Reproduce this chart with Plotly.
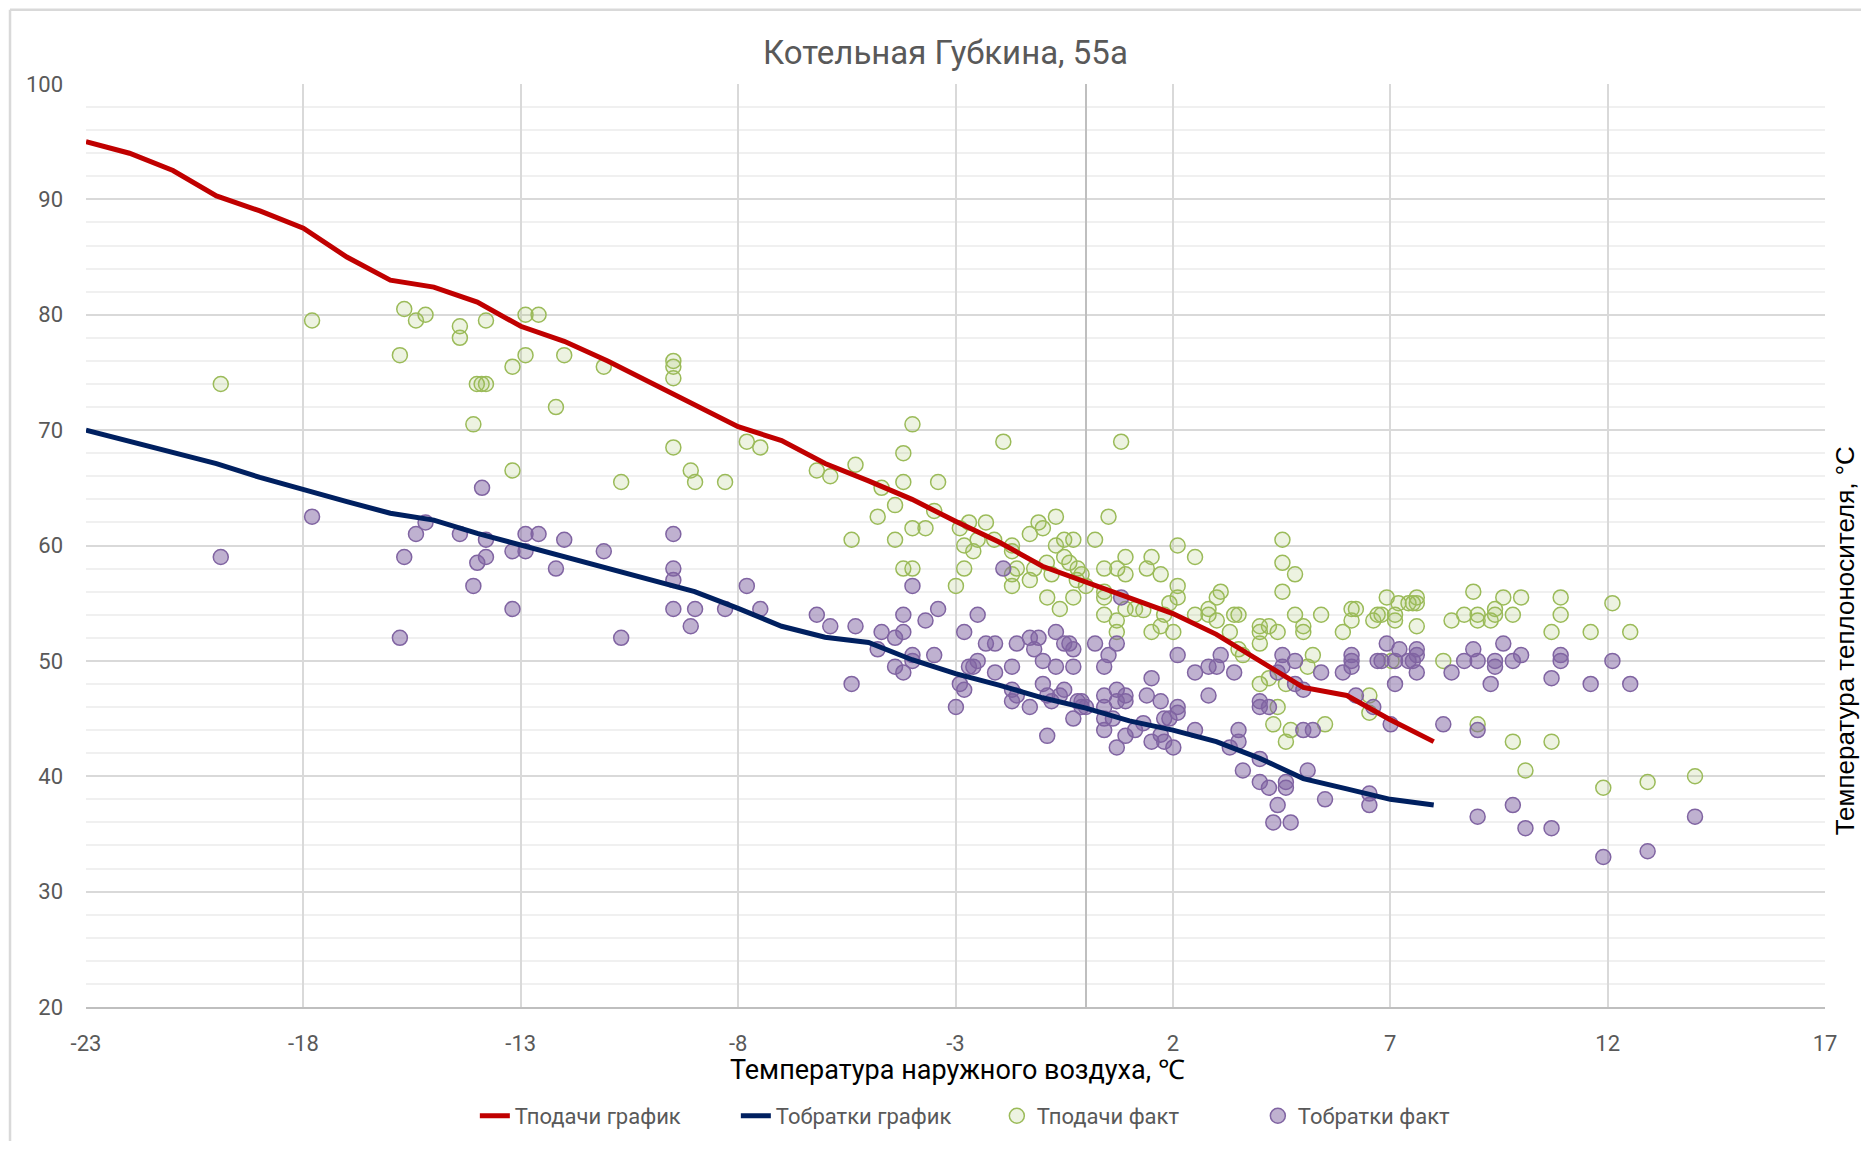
import plotly.graph_objects as go

# ---------------- data ----------------
t_graph = list(range(-23, 9))
t_supply_graph = [95, 94, 92.5, 90.3, 89, 87.5, 85, 83, 82.4, 81.1, 79, 77.7, 76, 74.1, 72.2, 70.3,
                  69.1, 67.1, 65.6, 64.0, 62.1, 60.3, 58.2, 56.8, 55.4, 54.1, 52.3, 50.0, 47.7, 47.0, 44.9, 43.0]
t_return_graph = [70, 69.05, 68.1, 67.1, 65.9, 64.8, 63.8, 62.8, 62.2, 61.05, 60.05, 59.0, 58.0, 57.0, 56.0, 54.55,
                  53.0, 52.05, 51.6, 50.1, 48.9, 47.9, 46.8, 45.9, 44.8, 44.0, 43.0, 41.55, 39.8, 38.9, 38.0, 37.5]

supply_fact_x = [-19.9, -17.8, -15.78, -15.68, -15.41, -15.19, -14.4, -14.4, -14.09, -14.01, -13.9, -13.8, -13.8,
                 -13.19, -13.19, -12.89, -12.89, -12.59, -12.19, -12.0, -11.09, -10.69, -9.49, -9.49, -9.49, -9.49,
                 -9.09, -8.99, -8.3, -7.8, -7.49, -6.19, -5.88,
                 -5.39, -5.3, -4.79, -4.7, -4.39, -4.39, -4.2, -4.2, -4.2, -3.99, -3.99, -3.99, -3.69, -3.49, -3.4,
                 -2.99, -2.9, -2.8, -2.8, -2.69, -2.59, -2.49, -2.3, -2.11, -1.9, -1.7, -1.7, -1.59, -1.7, -1.7,
                 -1.29, -1.29, -1.19, -1.09, -0.99, -0.9, -0.89, -0.79, -0.69, -0.69, -0.6, -0.5, -0.5, -0.38,
                 -0.29, -0.29, -0.21, -0.19, -0.1, 0.0, 0.21, 0.42, 0.42, 0.42, 0.42, 0.52, 0.71, 0.71, 0.72, 0.81,
                 0.91, 0.91, 0.91, 1.13,
                 1.32, 1.4, 1.51, 1.51, 1.72, 1.72, 1.8, 1.92, 2.01, 2.11, 2.11, 2.11, 2.51, 2.51, 2.82, 2.82,
                 3.01, 3.01, 3.1, 3.31, 3.41, 3.51, 3.51, 3.61, 4.0, 4.0, 4.0, 4.0, 4.21, 4.21, 4.31, 4.41, 4.41,
                 4.52, 4.52, 4.52, 4.6, 4.6, 4.71, 4.81, 4.81, 5.0, 5.0, 5.1, 5.22, 5.41, 5.5, 5.91, 6.11, 6.11,
                 6.21, 6.52, 6.52, 6.61, 6.71, 6.8, 6.92, 7.03, 7.11, 7.11, 7.19, 7.42, 7.52, 7.61, 7.61, 7.61,
                 8.22, 8.41, 8.7, 8.91, 9.01, 9.01, 9.01, 9.31, 9.41, 9.41, 9.6, 9.82, 9.82, 10.01, 10.11, 10.71,
                 10.71, 10.92, 10.92, 11.61, 11.9, 12.11, 12.52, 12.92, 14.01]
supply_fact_y = [74.0, 79.5, 76.5, 80.5, 79.5, 80.0, 79.0, 78.0, 70.5, 74.0, 74.0, 74.0, 79.5,
                 75.5, 66.5, 76.5, 80.0, 80.0, 72.0, 76.5, 75.5, 65.5, 76.0, 75.5, 74.5, 68.5,
                 66.5, 65.5, 65.5, 69.0, 68.5, 66.5, 66.0,
                 60.5, 67.0, 62.5, 65.0, 63.5, 60.5, 68.0, 65.5, 58.0, 70.5, 61.5, 58.0, 61.5, 63.0, 65.5,
                 56.5, 61.5, 60.0, 58.0, 62.0, 59.5, 60.5, 62.0, 60.5, 69.0, 60.0, 59.5, 58.0, 57.5, 56.5,
                 61.0, 57.0, 58.0, 62.0, 61.5, 58.5, 55.5, 57.5, 62.5, 60.0, 54.5, 60.5, 59.0, 58.5,
                 60.5, 55.5, 57.0, 58.0, 57.5, 56.5, 60.5, 58.0, 56.0, 55.5, 54.0, 62.5, 53.5, 52.5, 58.0, 69.0,
                 59.0, 57.5, 54.5, 54.5,
                 54.4, 58.0, 59.0, 52.5, 57.5, 53.0, 54.0, 55.0, 52.5, 60.0, 56.5, 55.5, 59.0, 54.0, 54.5, 54.0,
                 55.5, 53.5, 56.0, 52.5, 54.0, 54.0, 51.0, 50.5, 53.0, 52.5, 51.5, 48.0, 53.0, 48.5, 44.5, 52.5, 46.0,
                 60.5, 58.5, 56.0, 48.0, 43.0, 44.0, 57.5, 54.0, 53.0, 52.5, 49.5, 50.5, 54.0, 44.5, 52.5, 53.5, 54.5,
                 54.5, 47.0, 45.5, 53.5, 54.0, 54.0, 55.5, 50.0, 54.0, 53.5, 55.0, 55.0, 55.0, 55.5, 55.0, 53.0,
                 50.0, 53.5, 54.0, 56.0, 54.0, 53.5, 44.5, 53.5, 54.5, 54.0, 55.5, 54.0, 43.0, 55.5, 40.5, 52.5,
                 43.0, 55.5, 54.0, 52.5, 39.0, 55.0, 52.5, 39.5, 40.0]

return_fact_x = [-19.9, -17.8, -15.78, -15.68, -15.41, -15.19, -14.4, -14.09, -14.0, -13.89, -13.8, -13.8,
                 -13.19, -13.19, -12.89, -12.89, -12.59, -12.19, -12.0, -11.09, -10.69, -9.49, -9.49, -9.49, -9.49,
                 -9.09, -8.99, -8.3, -7.8, -7.49, -6.19, -5.88,
                 -5.39, -5.3, -4.79, -4.7, -4.39, -4.39, -4.2, -4.2, -4.2, -3.99, -3.99, -3.99, -3.69, -3.49, -3.4,
                 -2.99, -2.9, -2.8, -2.8, -2.69, -2.59, -2.49, -2.49, -2.3, -2.09, -2.09, -1.9, -1.7, -1.7, -1.7,
                 -1.59, -1.59, -1.29, -1.29, -1.19, -1.09, -0.99, -0.99, -0.89, -0.89, -0.79, -0.69, -0.69, -0.6,
                 -0.5, -0.5, -0.38, -0.29, -0.29, -0.29, -0.19, -0.1, -0.1, 0.0, 0.21, 0.42, 0.42, 0.42, 0.42, 0.42,
                 0.52, 0.62, 0.71, 0.71, 0.71, 0.71, 0.81, 0.91, 0.91, 0.91, 1.13,
                 1.32, 1.4, 1.51, 1.51, 1.72, 1.72, 1.8, 1.8, 1.92, 2.01, 2.11, 2.11, 2.11, 2.51, 2.51, 2.82, 2.82,
                 3.01, 3.1, 3.31, 3.41, 3.51, 3.51, 3.61, 4.0, 4.0, 4.0, 4.0, 4.21, 4.21, 4.31, 4.41, 4.41, 4.52,
                 4.52, 4.6, 4.6, 4.71, 4.81, 4.81, 5.0, 5.0, 5.1, 5.22, 5.41, 5.5, 5.91, 6.11, 6.11, 6.11, 6.21,
                 6.52, 6.52, 6.61, 6.71, 6.8, 6.92, 7.01, 7.11, 7.11, 7.21, 7.42, 7.52, 7.61, 7.61, 7.61,
                 8.22, 8.41, 8.7, 8.91, 9.01, 9.01, 9.01, 9.31, 9.41, 9.41, 9.6, 9.82, 9.82, 10.01, 10.11, 10.71,
                 10.71, 10.92, 10.92, 11.61, 11.9, 12.11, 12.52, 12.92, 14.01]
return_fact_y = [59.0, 62.5, 52.0, 59.0, 61.0, 62.0, 61.0, 56.5, 58.5, 65.0, 60.5, 59.0,
                 59.5, 54.5, 61.0, 59.5, 61.0, 58.0, 60.5, 59.5, 52.0, 61.0, 58.0, 57.0, 54.5,
                 53.0, 54.5, 54.5, 56.5, 54.5, 54.0, 53.0,
                 48.0, 53.0, 51.0, 52.5, 52.0, 49.5, 54.0, 52.5, 49.0, 56.5, 50.5, 50.0, 53.5, 50.5, 54.5,
                 46.0, 48.0, 52.5, 47.5, 49.5, 49.5, 54.0, 50.0, 51.5, 51.5, 49.0, 58.0, 49.5, 47.5, 46.5,
                 51.5, 47.0, 52.0, 46.0, 51.0, 52.0, 50.0, 48.0, 47.0, 43.5, 46.5, 52.5, 49.5, 47.0,
                 51.5, 47.5, 51.5, 51.0, 49.5, 45.0, 46.5, 46.5, 46.0, 46.0, 51.5, 49.5, 47.0, 46.0, 45.0, 44.0,
                 50.5, 45.0, 51.5, 47.5, 46.5, 42.5, 55.5, 47.0, 46.5, 43.5, 44.0,
                 44.6, 47.0, 48.5, 43.0, 46.5, 43.6, 45.0, 43.0, 45.0, 42.5, 50.5, 46.0, 45.5, 49.0, 44.0, 49.5, 47.0,
                 49.5, 50.5, 42.5, 49.0, 44.0, 43.0, 40.5, 46.5, 46.0, 41.5, 39.5, 46.0, 39.0, 36.0, 49.0, 37.5, 50.5,
                 49.5, 39.5, 39.0, 36.0, 50.0, 48.0, 47.5, 44.0, 40.5, 44.0, 49.0, 38.0, 49.0, 50.5, 50.0, 49.5, 47.0,
                 38.5, 37.5, 46.0, 50.0, 50.0, 51.5, 44.5, 50.0, 48.0, 51.0, 50.0, 50.0, 51.0, 50.5, 49.0,
                 44.5, 49.0, 50.0, 51.0, 50.0, 44.0, 36.5, 48.0, 50.0, 49.5, 51.5, 50.0, 37.5, 50.5, 35.5, 48.5,
                 35.5, 50.5, 50.0, 48.0, 33.0, 50.0, 48.0, 33.5, 36.5]

x_ticks = [-23, -18, -13, -8, -3, 2, 7, 12, 17]
y_ticks = [20, 30, 40, 50, 60, 70, 80, 90, 100]

title_text = "Котельная Губкина, 55а"
x_title = "Температура наружного воздуха, ℃"
y_title = "Температура теплоносителя, °C"
names = ["Тподачи график", "Тобратки график", "Тподачи факт", "Тобратки факт"]

# ---------------- figure ----------------
NARROW = "Liberation Sans Narrow, Arial Narrow, Roboto, sans-serif"
GRAY = "#595959"

fig = go.Figure()
fig.add_trace(go.Scatter(x=supply_fact_x, y=supply_fact_y, mode="markers", name=names[2], legendrank=3,
                         marker=dict(symbol="circle", size=15, color="rgba(155,187,89,0.18)",
                                     line=dict(color="#9BBB59", width=1.5))))
fig.add_trace(go.Scatter(x=return_fact_x, y=return_fact_y, mode="markers", name=names[3], legendrank=4,
                         marker=dict(symbol="circle", size=15, color="rgba(128,100,162,0.5)",
                                     line=dict(color="#8064A2", width=1.5))))
fig.add_trace(go.Scatter(x=t_graph, y=t_supply_graph, mode="lines", name=names[0], legendrank=1,
                         line=dict(color="#C00000", width=5)))
fig.add_trace(go.Scatter(x=t_graph, y=t_return_graph, mode="lines", name=names[1], legendrank=2,
                         line=dict(color="#002060", width=5)))

fig.update_layout(
    width=1853, height=1133,
    margin=dict(l=78, r=36, t=76, b=134, autoexpand=False),
    paper_bgcolor="white", plot_bgcolor="white",
    font=dict(family=NARROW, color=GRAY, size=22),
    showlegend=True,
    legend=dict(orientation="h", x=0.2236, y=-0.118, xanchor="left", yanchor="middle",
                traceorder="normal", font=dict(size=22, color=GRAY, family=NARROW),
                entrywidth=216, entrywidthmode="pixels"),
    xaxis=dict(range=[-23, 17], tickvals=x_ticks, ticktext=[str(v) for v in x_ticks],
               showgrid=True, gridcolor="#D9D9D9", gridwidth=1.5,
               zeroline=True, zerolinecolor="#BFBFBF", zerolinewidth=1.5,
               showline=True, linecolor="#BFBFBF", linewidth=2,
               ticks="", ticklabelstandoff=16, tickfont=dict(size=22, color=GRAY)),
    yaxis=dict(range=[20, 100], tickvals=y_ticks, showgrid=True, gridcolor="#D9D9D9", gridwidth=1.5,
               zeroline=False, showline=False, ticks="", ticklabelstandoff=22,
               tickfont=dict(size=22, color=GRAY),
               minor=dict(dtick=2, tick0=20, showgrid=True, gridcolor="#F0F0F0", gridwidth=1.5)),
    annotations=[
        dict(text=title_text, xref="paper", yref="paper", x=0.4945, y=1.034, showarrow=False,
             xanchor="center", yanchor="middle", font=dict(size=33, color=GRAY, family=NARROW)),
        dict(text=x_title, xref="paper", yref="paper", x=0.5009, y=-0.068, showarrow=False,
             xanchor="center", yanchor="middle", font=dict(size=27, color="black", family=NARROW)),
        dict(text=y_title, xref="paper", yref="paper", x=1.0112, y=0.3967, showarrow=False,
             textangle=-90, xanchor="center", yanchor="middle",
             font=dict(size=26, color="black", family="Liberation Sans, Arial, sans-serif")),
    ],
    shapes=[
        dict(type="line", xref="paper", yref="paper", x0=-0.0437, x1=-0.0437, y0=1.0805, y1=-0.2,
             line=dict(color="#D9D9D9", width=2.5)),
        dict(type="line", xref="paper", yref="paper", x0=-0.0437, x1=1.05, y0=1.0805, y1=1.0805,
             line=dict(color="#D9D9D9", width=2.5)),
    ],
)

fig.write_html("out.html")
